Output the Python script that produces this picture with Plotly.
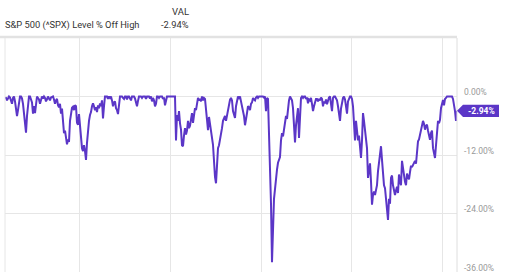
import pandas as pd
import plotly.graph_objects as go

title_text = "S&P 500 (^SPX) Level % Off High"
col_header = "VAL"
current_label = "-2.94%"
start_date = "2014-05-09"
end_date = "2024-04-26"
y_ticks = [0, -12, -24, -36]
y_ticktext = ["0.00%", "-12.00%", "-24.00%", "-36.00%"]

# % off high, evenly spaced samples (~8 days) from start_date to end_date
values = [
    -0.3, -0.3, -0.8, -0.5, 0.0, -0.2, -1.2, -1.5, -0.3, 0.0,
    -1.0, -2.5, -4.0, -2.8, -0.8, 0.0, 0.0, -0.4, -1.5, -3.8,
    -5.5, -7.4, -4.0, -1.0, 0.0, 0.0, -0.5, -1.2, -3.5, -2.0,
    -3.4, -0.8, 0.0, -0.3, -0.6, -1.5, -0.8, 0.0, -0.4, 0.0,
    -0.3, -1.0, -0.6, 0.0, -0.4, -0.8, -0.2, 0.0, 0.0, -0.6,
    -1.5, -0.8, -0.5, -1.8, -2.2, -1.5, -3.5, -2.5, -6.5, -7.5,
    -7.0, -8.3, -9.8, -8.8, -9.3, -5.0, -4.0, -2.3, -2.1, -2.8,
    -1.8, -2.0, -5.4, -5.8, -3.6, -6.0, -9.4, -10.6, -11.2, -10.0,
    -11.2, -13.0, -9.5, -6.1, -5.0, -3.8, -3.2, -2.0, -1.4, -2.0,
    -2.8, -2.2, -3.2, -1.8, -2.4, -1.4, -2.0, -0.8, -4.5, -2.0,
    0.0, 0.0, 0.0, -0.5, 0.0, -0.3, 0.0, -0.8, -2.0, -1.2,
    -1.0, -2.4, -2.8, -3.6, -1.5, 0.0, 0.0, 0.0, -0.3, -0.5,
    0.0, 0.0, -0.6, 0.0, 0.0, -0.3, -0.8, 0.0, 0.0, 0.0,
    -0.4, -1.2, -2.0, -0.9, 0.0, 0.0, 0.0, -0.3, 0.0, 0.0,
    0.0, -0.5, 0.0, 0.0, 0.0, -0.4, 0.0, -1.0, -0.3, -0.8,
    -2.0, -1.5, 0.0, 0.0, -0.3, 0.0, 0.0, 0.0, -0.5, -0.2,
    -1.8, -0.5, 0.0, 0.0, 0.0, 0.0, 0.0, 0.0, 0.0, 0.0,
    0.0, -9.0, -3.8, -5.0, -3.0, -5.5, -6.8, -10.0, -10.2, -8.0,
    -6.5, -7.8, -7.0, -5.0, -6.5, -6.0, -4.0, -3.4, -5.4, -3.5,
    -2.4, -2.8, -1.2, -0.3, -0.8, -0.5, -1.0, 0.0, -0.8, -0.3,
    -0.5, -2.5, -4.8, -6.9, -4.2, -6.0, -7.2, -8.5, -9.9, -14.0,
    -16.5, -17.8, -14.0, -10.6, -10.0, -9.0, -7.8, -6.5, -5.0, -4.5,
    -4.0, -5.0, -3.8, -2.4, -1.8, -0.7, -0.3, -0.8, -3.0, -3.6,
    -4.4, -2.0, -0.5, 0.0, -0.3, 0.0, -1.0, -2.0, -3.0, -4.0,
    -5.9, -4.0, -3.4, -2.0, -2.2, -2.8, -1.5, -1.2, -0.3, -0.6,
    -0.8, -0.2, 0.0, -0.3, 0.0, 0.0, 0.0, 0.0, 0.0, -0.2,
    0.0, -3.0, -0.3, -0.5, -7.5, -12.4, -22.0, -34.0, -24.0, -21.0,
    -19.0, -16.5, -15.0, -13.6, -13.0, -12.4, -9.0, -7.5, -8.2, -7.0,
    -6.0, -4.0, -4.6, -2.5, -0.8, 0.0, -0.3, -0.8, -2.4, -5.0,
    -9.4, -5.9, -3.5, -2.4, -8.5, -3.0, -0.3, 0.0, -0.3, 0.0,
    0.0, -0.5, -0.2, -1.4, -0.6, -0.8, -0.3, -1.5, -3.0, -2.0,
    -1.4, -0.5, -0.5, -1.0, -0.5, -0.8, -0.2, -0.5, -2.0, -1.0,
    -1.4, -0.6, -1.6, -0.6, -0.2, 0.0, -1.5, -3.0, -0.3, 0.0,
    0.0, -0.3, -0.8, -2.0, -3.5, -5.0, -2.5, -1.0, -0.3, 0.0,
    -0.6, -2.0, -3.5, -1.0, -0.3, 0.0, 0.0, -0.5, -2.0, -4.8,
    -9.0, -5.0, -6.5, -9.0, -8.0, -11.2, -12.6, -9.0, -3.4, -5.0,
    -6.5, -8.5, -10.6, -16.7, -15.0, -13.7, -17.4, -22.2, -20.2, -19.5,
    -20.2, -19.0, -18.2, -15.3, -13.5, -12.0, -10.2, -13.0, -16.5, -18.2,
    -18.8, -21.5, -23.5, -25.3, -21.0, -22.0, -16.7, -16.2, -18.2, -19.0,
    -20.2, -19.3, -18.5, -19.8, -16.0, -17.5, -18.2, -13.2, -15.0, -16.8,
    -17.5, -18.2, -15.8, -16.5, -17.0, -15.5, -14.2, -14.5, -14.0, -13.6,
    -13.2, -13.8, -11.2, -9.2, -8.8, -7.9, -7.2, -6.0, -5.0, -5.6,
    -6.8, -6.0, -5.8, -7.0, -8.2, -8.9, -7.5, -7.0, -10.6, -11.8,
    -12.6, -10.0, -7.8, -5.0, -5.5, -4.8, -2.4, -1.5, -0.7, -1.8,
    -0.5, -0.3, 0.0, 0.0, 0.0, 0.0, 0.0, 0.0, -0.5, -1.6,
    -3.0, -5.0, -2.94,
]

dates = pd.date_range(start_date, end_date, periods=len(values))

W, H = 520, 272
ML, MR, MT, MB = 5, 63, 38, 0
pw = W - ML - MR
ph = H - MT - MB

purple = "#5b36c7"
grid = "#e6e6e6"
font_fam = "Roboto, Arial, sans-serif"

def px_x(px):
    return (px - ML) / pw

def px_y(py):
    return (H - MB - py) / ph

fig = go.Figure()
fig.add_trace(go.Scatter(
    x=dates, y=values, mode="lines",
    line=dict(color=purple, width=2), hoverinfo="skip", showlegend=False,
))

last_val = values[-1]
half = 6.2 * 48 / ph  # half label height in data units

fig.update_layout(
    width=W, height=H,
    margin=dict(l=ML, r=MR, t=MT, b=MB, pad=0),
    paper_bgcolor="white", plot_bgcolor="white",
    showlegend=False,
    xaxis=dict(
        type="date", range=[dates[0], dates[-1]],
        showgrid=True, gridcolor=grid, gridwidth=1,
        tick0="2016-01-01", dtick="M24",
        showticklabels=False, ticks="", zeroline=False,
        showline=False,
    ),
    yaxis=dict(
        side="right", range=[-36, 12],
        tickvals=y_ticks, ticktext=y_ticktext,
        showgrid=True, gridcolor=grid, gridwidth=1,
        zeroline=False, ticks="",
        tickfont=dict(family=font_fam, size=8.5, color="#999999"),
        ticklabelstandoff=6, ticklabelshift=-4,
        ticklabeloverflow="allow",
    ),
    shapes=[
        dict(type="line", xref="paper", yref="paper",
             x0=px_x(0), x1=1.0, y0=px_y(37), y1=px_y(37),
             line=dict(color="#e2e2e2", width=2.5)),
        dict(type="line", xref="paper", yref="paper",
             x0=1.0, x1=1.0, y0=0, y1=1.0,
             line=dict(color="#dedede", width=1)),
        dict(type="line", xref="paper", yref="paper",
             x0=0.0, x1=0.0, y0=0, y1=1.0,
             line=dict(color=grid, width=1)),
        dict(type="path", xref="paper", yref="y",
             path=(f"M 1.0 {last_val} L {px_x(463)} {last_val + half} "
                   f"L {px_x(499)} {last_val + half} L {px_x(499)} {last_val - half} "
                   f"L {px_x(463)} {last_val - half} Z"),
             fillcolor=purple, line=dict(width=0)),
    ],
    annotations=[
        dict(text=title_text, xref="paper", yref="paper",
             x=px_x(3), y=px_y(25), xanchor="left", yanchor="middle",
             showarrow=False, font=dict(family=font_fam, size=9.3, color="#333333")),
        dict(text=col_header, xref="paper", yref="paper",
             x=px_x(191), y=px_y(11.5), xanchor="right", yanchor="middle",
             showarrow=False, font=dict(family=font_fam, size=9.5, color="#333333")),
        dict(text=current_label, xref="paper", yref="paper",
             x=px_x(191), y=px_y(25), xanchor="right", yanchor="middle",
             showarrow=False, font=dict(family=font_fam, size=9.3, color="#333333")),
        dict(text="<b>" + current_label + "</b>", xref="paper", yref="y",
             x=px_x(481), y=last_val, xanchor="center", yanchor="middle",
             showarrow=False, font=dict(family=font_fam, size=8.5, color="white")),
    ],
)

fig.write_html("out.html")
